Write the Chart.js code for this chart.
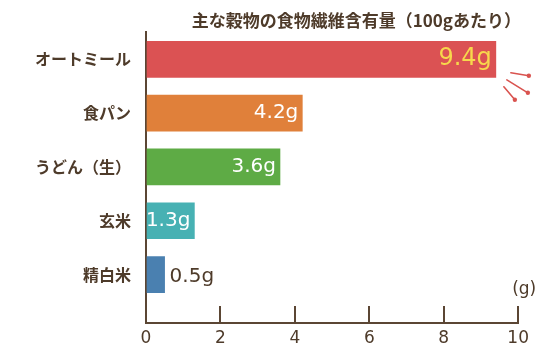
<!DOCTYPE html>
<html>
<head>
<meta charset="utf-8">
<script src="https://cdn.jsdelivr.net/npm/chart.js@4/dist/chart.umd.min.js"></script>
<style>
html,body{margin:0;padding:0;background:#fff;}
</style>
</head>
<body>
<canvas id="myChart" width="551" height="361"></canvas>
<script>
const titulo="主な穀物の食物繊維含有量（100gあたり）";
const categorias=["オートミール","食パン","うどん（生）","玄米","精白米"];
const valores=[9.4,4.2,3.6,1.3,0.5];
const etiquetas=["9.4g","4.2g","3.6g","1.3g","0.5g"];
const colores=["#db5253","#e0803a","#5eab45","#47b1b3","#4a80b0"];
const ticksX=[0,2,4,6,8,10];
const unidad="(g)";

const marron="#4e3b2a";
const lineaEje="#5b4634";
const ctx=document.getElementById("myChart");

// etiquetas de valor, unidad y los trazos decorativos junto a la barra mayor
const extras={
    id:"extras",
    afterDatasetsDraw(chart){
        const c=chart.ctx;
        const meta=chart.getDatasetMeta(0);
        const xs=chart.scales.x;
        c.save();
        meta.data.forEach((bar,i)=>{
            const ancho=bar.x-bar.base;
            if(i===0){
                c.font="24px 'DejaVu Sans'";
                c.fillStyle="#f7d84c";
            }else{
                c.font="20px 'DejaVu Sans'";
                c.fillStyle="#ffffff";
            }
            c.textBaseline="alphabetic";
            if(ancho<30){
                c.fillStyle=marron;
                c.textAlign="left";
                c.fillText(etiquetas[i],bar.x+5,bar.y+7);
            }else{
                c.textAlign="right";
                c.fillText(etiquetas[i],bar.x-4,bar.y+(i===0?6:5));
            }
        });
        // unidad
        c.font="17px 'DejaVu Sans'";
        c.fillStyle=marron;
        c.textAlign="center";
        c.textBaseline="middle";
        c.fillText(unidad,xs.getPixelForValue(ticksX[ticksX.length-1])+6,chart.chartArea.bottom-33);
        // trazos
        const b=meta.data[0];
        const trazos=[[15,13.5,33,16.5],[11,20.5,32,33.5],[8,27.5,19,40.5]];
        c.strokeStyle="#d9534f";
        c.fillStyle="#d9534f";
        c.lineWidth=1.6;
        c.lineCap="round";
        trazos.forEach(t=>{
            c.beginPath();
            c.moveTo(b.x+t[0],b.y+t[1]);
            c.lineTo(b.x+t[2],b.y+t[3]);
            c.stroke();
            c.beginPath();
            c.arc(b.x+t[2],b.y+t[3],2.2,0,Math.PI*2);
            c.fill();
        });
        c.restore();
    }
};

const myChart=new Chart(ctx,{
    type:"bar",
    data:{
        datasets:[{
            data:valores.map((v,i)=>({x:v,y:i})),
            backgroundColor:colores,
            borderWidth:0,
            barThickness:36
        }]
    },
    options:{
        responsive:false,
        animation:false,
        indexAxis:"y",
        layout:{padding:{left:0,right:30,top:0,bottom:0}},
        plugins:{
            legend:{display:false},
            tooltip:{enabled:false},
            title:{
                display:true,
                text:titulo,
                align:"end",
                color:marron,
                font:{family:"'Noto Sans CJK JP'",size:17,weight:"bold"},
                padding:{top:10,bottom:2}
            }
        },
        scales:{
            y:{
                type:"linear",
                offset:false,
                reverse:true,
                min:-0.5,
                max:4.9,
                afterBuildTicks:s=>{s.ticks=categorias.map((c,i)=>({value:i}));},
                afterFit:s=>{s.width=146;},
                grid:{display:false,drawTicks:false,offset:false},
                border:{display:true,color:lineaEje,width:2},
                ticks:{
                    autoSkip:false,
                    padding:15,
                    color:marron,
                    font:{family:"'Noto Sans CJK JP'",size:16,weight:"bold"},
                    callback:v=>categorias[v]
                }
            },
            x:{
                type:"linear",
                min:0,
                max:10,
                afterBuildTicks:s=>{s.ticks=ticksX.map(v=>({value:v}));},
                afterFit:s=>{s.height=38;},
                grid:{display:true,drawOnChartArea:false,drawTicks:true,tickLength:-17,color:lineaEje,lineWidth:2},
                border:{display:true,color:lineaEje,width:2},
                ticks:{
                    padding:22,
                    color:marron,
                    font:{family:"'DejaVu Sans'",size:17},
                    callback:v=>v
                }
            }
        }
    },
    plugins:[extras]
});
</script>
</body>
</html>
